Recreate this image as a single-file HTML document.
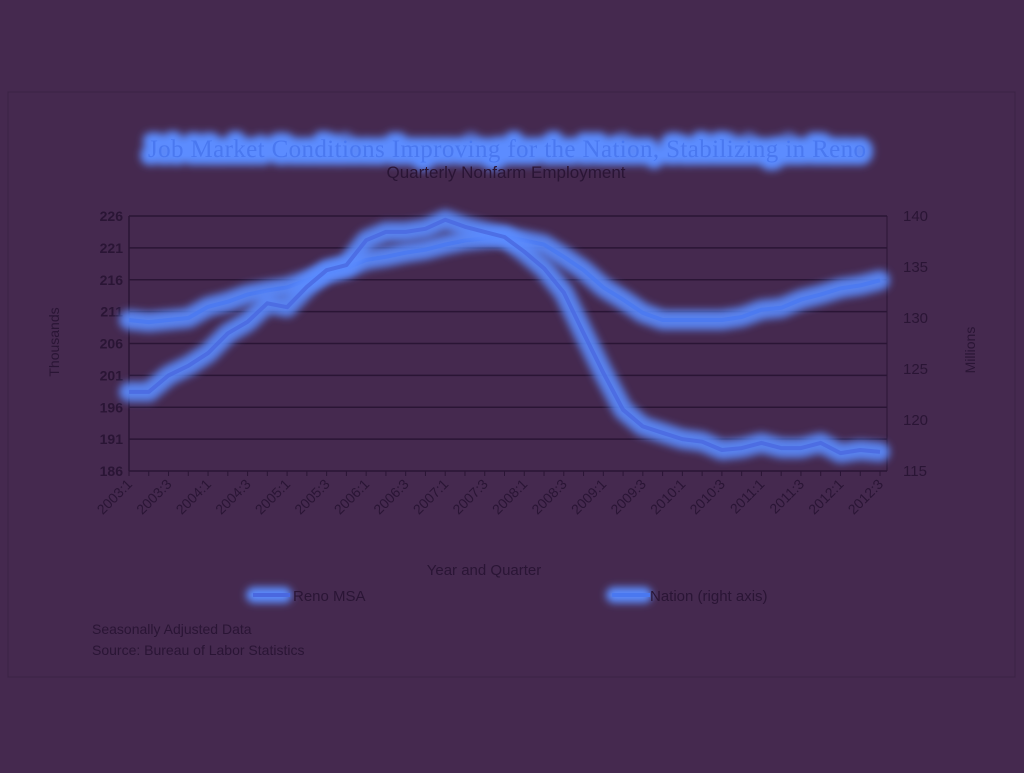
<!DOCTYPE html>
<html><head><meta charset="utf-8"><style>
body{margin:0;background:#45294f;width:1024px;height:768px;overflow:hidden;font-family:"Liberation Sans",sans-serif}
</style></head><body>
<svg width="1024" height="768" xmlns="http://www.w3.org/2000/svg">
<defs>
<filter id="glow" filterUnits="userSpaceOnUse" x="0" y="0" width="1024" height="768"><feGaussianBlur stdDeviation="4"/></filter>
<filter id="tglow" filterUnits="userSpaceOnUse" x="0" y="0" width="1024" height="768"><feGaussianBlur stdDeviation="4"/></filter>
</defs>
<rect x="8" y="92" width="1007" height="585" fill="#45294f" stroke="#3a2244"/>
<g>
<text x="507" y="157" text-anchor="middle" font-family="Liberation Serif,serif" font-size="25" textLength="718" fill="#5b8cff" stroke="#5b8cff" stroke-width="16" stroke-linejoin="round" filter="url(#tglow)">Job  Market Conditions Improving for the Nation, Stabilizing in Reno</text>
<text x="507" y="157" text-anchor="middle" font-family="Liberation Serif,serif" font-size="25" textLength="718" fill="#4a78f0">Job  Market Conditions Improving for the Nation, Stabilizing in Reno</text>
</g>
<text x="506" y="178" text-anchor="middle" font-size="17" fill="#2a1535">Quarterly Nonfarm Employment</text>
<g id="grid"></g><g id="axes"></g><g id="series"></g>
<text transform="translate(59,342) rotate(-90)" text-anchor="middle" font-size="14" fill="#2a1535">Thousands</text>
<text transform="translate(975,350) rotate(-90)" text-anchor="middle" font-size="14" fill="#2a1535">Millions</text>
<text x="484" y="575" text-anchor="middle" font-size="15" fill="#2a1535">Year and Quarter</text>
<g>
<rect x="246" y="587" width="46" height="16" rx="8" fill="#5b8cff" filter="url(#glow)"/>
<line x1="253" y1="595" x2="290" y2="595" stroke="#4a68e0" stroke-width="4"/>
<text x="293" y="601" font-size="15" fill="#2a1535">Reno MSA</text></g>
<g>
<rect x="606" y="587" width="46" height="16" rx="8" fill="#5b8cff" filter="url(#glow)"/>
<line x1="612" y1="595" x2="650" y2="595" stroke="#4a78f0" stroke-width="4"/>
<text x="650" y="601" font-size="15" fill="#2a1535">Nation (right axis)</text></g>
<text x="92" y="634" font-size="14" fill="#2a1535">Seasonally Adjusted Data</text>
<text x="92" y="655" font-size="14" fill="#2a1535">Source: Bureau of Labor  Statistics</text>
</svg>
<script>
const leftTicks=[186,191,196,201,206,211,216,221,226];
const rightTicks=[115,120,125,130,135,140];
const reno=[198.4,198.4,201,202.5,204.5,207.6,209.4,212.3,211.7,214.9,217.5,218.3,222.2,223.5,223.5,224,225.4,224.3,223.5,222.7,220.4,217.8,214,207.6,201.4,195.6,193,192,191,190.6,189.3,189.6,190.4,189.6,189.6,190.4,188.8,189.3,189];
const nation=[129.8,129.6,129.8,130,131.1,131.6,132.3,132.7,133,133.7,134.4,134.9,135.7,136,136.4,136.7,137.2,137.6,137.8,138,137.6,137.2,136,134.7,133,131.8,130.5,129.8,129.8,129.8,129.8,130.1,130.8,131,131.8,132.3,132.9,133.2,133.7];
const cats=[];for(let y=2003;y<=2012;y++)for(let q=1;q<=4;q++)cats.push(y+':'+q);cats.length=39;
const X0=129,X1=880,Y0=216,Y1=471;
const xs=i=>X0+i*(X1-X0)/(cats.length-1);
const yl=v=>Y1-(v-186)/(226-186)*(Y1-Y0);
const yr=v=>Y1-(v-115)/(140-115)*(Y1-Y0);
const NS='http://www.w3.org/2000/svg';
function mk(tag,attrs,parent,txt){const e=document.createElementNS(NS,tag);for(const k in attrs)e.setAttribute(k,attrs[k]);if(txt!==undefined)e.textContent=txt;parent.appendChild(e);return e;}
const grid=document.getElementById('grid'),axes=document.getElementById('axes'),ser=document.getElementById('series');
leftTicks.forEach(t=>{const y=yl(t);
 const g=mk('line',{x1:X0,x2:887,y1:y,y2:y,stroke:'#2a1535','stroke-width':1.5},grid);
 
 
 const l=mk('text',{x:X0-6,y:y+5,'text-anchor':'end','font-size':14,'font-weight':'bold',fill:'#2a1535'},axes,String(t));
 
 });
rightTicks.forEach(t=>{const y=yr(t);
 const l=mk('text',{x:903,y:y+5,'font-size':15,fill:'#2a1535'},axes,String(t));
 
 });
mk('line',{x1:X0,x2:X0,y1:Y0,y2:Y1,stroke:'#2a1535','stroke-width':1.5},axes);
mk('line',{x1:887,x2:887,y1:Y0,y2:Y1,stroke:'#2a1535','stroke-width':1},axes);
cats.forEach((c,i)=>{const x=xs(i);
 mk('line',{x1:x,x2:x,y1:Y1,y2:Y1+5,stroke:'#2a1535'},axes);
 if(i%2===0){const l=mk('text',{transform:`translate(${x+4},${Y1+14}) rotate(-45)`,'text-anchor':'end','font-size':14,fill:'#2a1535'},axes,c);
 
 }});
function draw(vals,yf,name,col){
 const d=vals.map((v,i)=>(i?'L':'M')+xs(i).toFixed(1)+','+yf(v).toFixed(1)).join(' ');
 const g=mk('g',{},ser);
 
 
 mk('path',{d,fill:'none',stroke:'#5b8cff','stroke-width':20,'stroke-linejoin':'round','stroke-linecap':'round',filter:'url(#glow)',opacity:0.9},g);
 mk('path',{d,fill:'none',stroke:col,'stroke-width':4,'stroke-linejoin':'round',opacity:0.8},g);}
draw(nation,yr,'series-nation','#4a78f0');
draw(reno,yl,'series-reno','#4a68e0');
</script>
</body></html>
